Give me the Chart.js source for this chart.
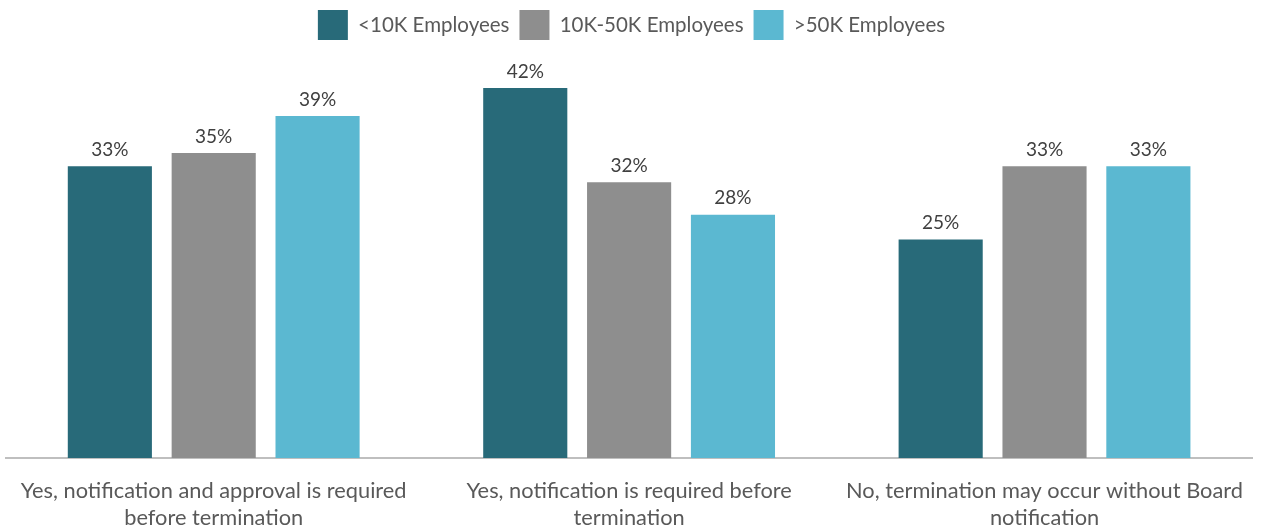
<!DOCTYPE html>
<html>
<head>
<meta charset="utf-8">
<script src="https://cdn.jsdelivr.net/npm/chart.js@4"></script>
<style>
html,body{margin:0;padding:0;background:#fff;}
#wrap{width:1263px;height:528px;position:relative;}
</style>
</head>
<body>
<div id="wrap"><canvas id="c" width="1263" height="528"></canvas></div>
<script>
const categories = [
  ["Yes, notification and approval is required", "before termination"],
  ["Yes, notification is required before", "termination"],
  ["No, termination may occur without Board", "notification"]
];
const seriesNames = ["<10K Employees", "10K-50K Employees", ">50K Employees"];
const small = [33.1, 42.0, 24.8];
const mid = [34.6, 31.3, 33.1];
const large = [38.8, 27.6, 33.1];
const smallLabels = ["33%", "42%", "25%"];
const midLabels = ["35%", "32%", "33%"];
const largeLabels = ["39%", "28%", "33%"];
const colors = ["#286a79", "#8e8e8e", "#5bb8d1"];

const labelSets = [smallLabels, midLabels, largeLabels];

const valueLabels = {
  id: 'valueLabels',
  afterDatasetsDraw(chart) {
    const ctx = chart.ctx;
    ctx.save();
    ctx.font = '19px Lato, "Open Sans", sans-serif';
    ctx.fillStyle = '#404040';
    ctx.textAlign = 'center';
    ctx.textBaseline = 'bottom';
    chart.data.datasets.forEach((ds, i) => {
      const meta = chart.getDatasetMeta(i);
      meta.data.forEach((bar, j) => {
        ctx.fillText(labelSets[i][j], bar.x, bar.y - 7);
      });
    });
    ctx.restore();
  }
};

new Chart(document.getElementById('c'), {
  type: 'bar',
  data: {
    labels: categories,
    datasets: [
      { label: seriesNames[0], data: small, backgroundColor: colors[0] },
      { label: seriesNames[1], data: mid, backgroundColor: colors[1] },
      { label: seriesNames[2], data: large, backgroundColor: colors[2] }
    ]
  },
  options: {
    responsive: false,
    animation: false,
    devicePixelRatio: 1,
    layout: { padding: { left: 6, right: 6, top: 0, bottom: 0 } },
    categoryPercentage: 0.75,
    barPercentage: 0.81,
    plugins: {
      legend: {
        position: 'top',
        labels: {
          boxWidth: 30,
          boxHeight: 30,
          padding: 10,
          color: '#595959',
          font: { size: 20.5, family: 'Lato, "Open Sans", sans-serif' }
        }
      },
      tooltip: { enabled: false }
    },
    scales: {
      x: {
        grid: { display: false, drawTicks: false },
        border: { display: true, color: '#bfbfbf', width: 2 },
        afterFit(scale) { scale.height = 70; },
        ticks: {
          color: '#595959',
          font: { size: 21.8, family: 'Lato, "Open Sans", sans-serif', lineHeight: 1.25 },
          padding: 19,
          maxRotation: 0,
          autoSkip: false
        }
      },
      y: {
        display: false,
        min: 0,
        max: 46.3
      }
    }
  },
  plugins: [valueLabels]
});
</script>
</body>
</html>
